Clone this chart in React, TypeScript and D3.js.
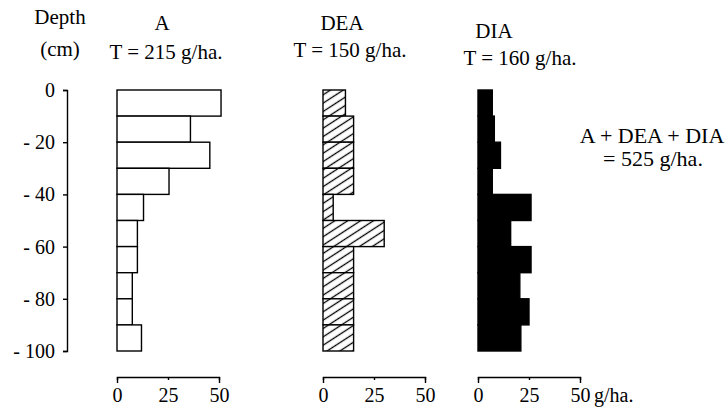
import React, { useEffect, useRef } from 'react';
import * as d3 from 'd3';

const width = 728;
const height = 409;
const font = '"Liberation Serif", "DejaVu Serif", serif';

// top of each 10 cm soil layer
const depths = [0, 10, 20, 30, 40, 50, 60, 70, 80, 90];
const layer = 10;

// g/ha. in each layer
const aValues = [51, 36, 45.5, 25.5, 13, 10, 10, 7.5, 7.5, 12];
const deaValues = [11, 15, 15, 15, 5, 30, 15, 15, 15, 15];
const diaValues = [7, 8, 11, 7, 26, 16, 26, 20.5, 25, 21];

const panels = ['A', 'DEA', 'DIA'];
const totals = [215, 150, 160];
const grandTotal = 525;

const depthTicks = [0, -20, -40, -60, -80, -100];
const amountTicks = [0, 25, 50];

// panel layout (pixels)
const panelLeft = [117, 323, 478];
const panelWidth = 102;
const titleX = [162, 342, 494];
const titleY = [30, 30, 38];
const totalX = [166, 350, 520];
const totalY = [59, 57, 65];
const fills = ['#fff', 'url(#hatch)', '#000'];

const yScale = d3.scaleLinear().domain([0, -100]).range([90, 351]);
const xScales = panelLeft.map(l => d3.scaleLinear().domain([0, 50]).range([l, l + panelWidth]));

export default function App() {
  const yRef = useRef<SVGGElement>(null);
  const xRefs = [useRef<SVGGElement>(null), useRef<SVGGElement>(null), useRef<SVGGElement>(null)];
  const series = [aValues, deaValues, diaValues];

  useEffect(() => {
    const yAxis = d3.axisLeft(yScale)
      .tickValues(depthTicks)
      .tickSize(4)
      .tickPadding(8)
      .tickFormat(d => (+d === 0 ? '0' : `- ${Math.abs(+d)}`));
    const yg = d3.select(yRef.current).call(yAxis as any);
    yg.attr('font-family', font).attr('font-size', 20);
    yg.selectAll('path, line').attr('stroke-width', 1.4);

    xRefs.forEach((ref, i) => {
      const xAxis = d3.axisBottom(xScales[i])
        .tickValues(amountTicks)
        .tickSizeInner(3)
        .tickSizeOuter(6)
        .tickPadding(8)
        .tickFormat(d => `${d}`);
      const g = d3.select(ref.current).call(xAxis as any);
      g.attr('font-family', font).attr('font-size', 20);
      g.selectAll('path, line').attr('stroke-width', 1.4);
    });
  }, []);

  return (
    <svg width={width} height={height} style={{ position: 'absolute', left: 0, top: 0, background: '#fff' }}
      fontFamily={font}>
      <defs>
        <pattern id="hatch" width="7" height="7" patternUnits="userSpaceOnUse" patternTransform="rotate(-33)">
          <rect width="7" height="7" fill="#fff" />
          <line x1="0" y1="3.5" x2="7" y2="3.5" stroke="#000" strokeWidth="1.3" />
        </pattern>
      </defs>

      {/* Depth axis */}
      <text x={60} y={24} fontSize={21} textAnchor="middle">Depth</text>
      <text x={60} y={56} fontSize={21} textAnchor="middle">(cm)</text>
      <g ref={yRef} transform="translate(67, 0)" />

      {/* Panels */}
      {panels.map((name, i) => (
        <g key={name}>
          <text x={titleX[i]} y={titleY[i]} fontSize={21} textAnchor="middle">{name}</text>
          <text x={totalX[i]} y={totalY[i]} fontSize={21} textAnchor="middle">{`T = ${totals[i]} g/ha.`}</text>
          {series[i].map((v, j) => (
            <rect key={j}
              x={xScales[i](0)}
              y={yScale(-depths[j])}
              width={xScales[i](v) - xScales[i](0)}
              height={yScale(-(depths[j] + layer)) - yScale(-depths[j])}
              fill={fills[i]}
              stroke="#000"
              strokeWidth={1.4} />
          ))}
          <g ref={xRefs[i]} transform="translate(0, 377)" />
        </g>
      ))}
      <text x={xScales[2](50) + 14} y={402} fontSize={20}>g/ha.</text>

      {/* Sum */}
      <text x={652} y={143} fontSize={22} textAnchor="middle">A + DEA + DIA</text>
      <text x={653} y={166} fontSize={22} textAnchor="middle">{`= ${grandTotal} g/ha.`}</text>
    </svg>
  );
}
